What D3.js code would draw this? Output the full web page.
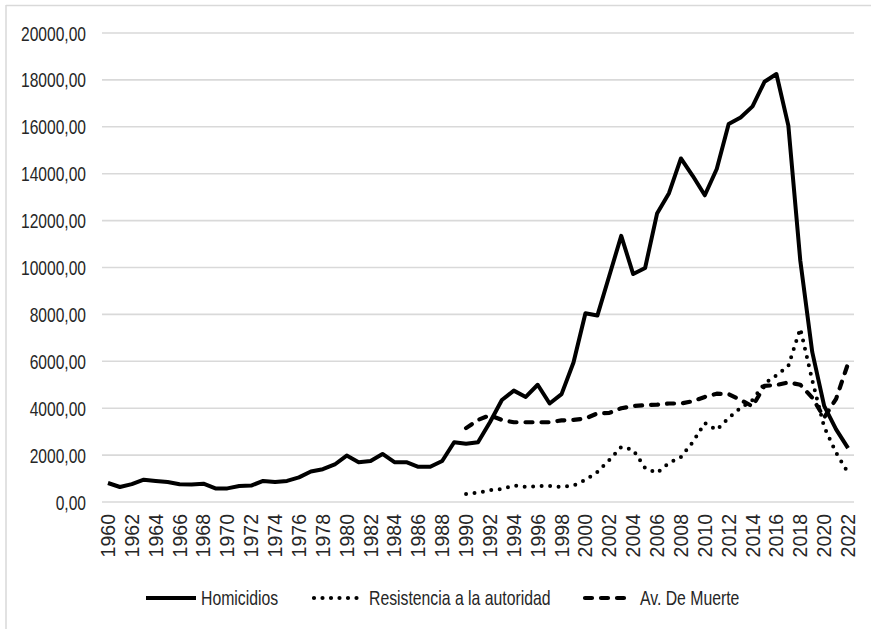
<!DOCTYPE html>
<html><head><meta charset="utf-8">
<script src="https://cdn.jsdelivr.net/npm/d3@7"></script>
<style>
body{margin:0;background:#fff;}
svg{display:block;}
</style></head>
<body>
<svg id="chart" width="871" height="629"></svg>
<script>
const years = d3.range(1960, 2023);
const homicidios = [810,640,760,950,900,850,760,750,780,580,580,680,700,900,850,900,1050,1300,1400,1600,1980,1700,1750,2050,1700,1700,1500,1500,1750,2550,2480,2550,3400,4350,4750,4480,5000,4200,4600,5950,8050,7950,9650,11350,9720,9980,12300,13170,14650,13900,13080,14200,16120,16400,16870,17920,18250,16050,10300,6400,4100,3100,2300];
const resistYears = d3.range(1990, 2023);
const resistencia = [340,400,500,560,700,640,680,680,640,700,940,1280,1790,2350,2220,1450,1240,1660,1920,2560,3370,3070,3580,4010,4350,5050,5400,5800,7400,5200,3200,2100,1250];
const muerte = [3150,3500,3700,3500,3400,3400,3400,3400,3480,3500,3560,3780,3800,4000,4090,4130,4150,4200,4200,4300,4480,4620,4600,4350,4080,4950,4990,5100,5000,4450,3600,4400,5900];
const yTicks = [0,2000,4000,6000,8000,10000,12000,14000,16000,18000,20000];
const xTickYears = years.filter(y => y % 2 === 0);
const seriesNames = ["Homicidios","Resistencia a la autoridad","Av. De Muerte"];

const FONT = "'Liberation Sans',Arial,sans-serif";
const svg = d3.select("#chart");
// outer frame (top and left edges visible)
svg.append("line").attr("x1",6).attr("x2",871).attr("y1",5.5).attr("y2",5.5).attr("stroke","#d9d9d9").attr("stroke-width",1.5);
svg.append("line").attr("x1",6).attr("x2",6).attr("y1",5).attr("y2",629).attr("stroke","#d9d9d9").attr("stroke-width",1.5);

const x = d3.scaleBand().domain(years).range([102, 854]).padding(0);
const xc = d => x(d) + x.bandwidth()/2;
const y = d3.scaleLinear().domain([0,20000]).range([502, 33]);

// gridlines
svg.append("g").selectAll("line").data(yTicks).join("line")
  .attr("x1",102).attr("x2",854)
  .attr("y1",d=>y(d)).attr("y2",d=>y(d))
  .attr("stroke","#d9d9d9").attr("stroke-width",1.6);

// y axis labels
const fmt = d => d3.format(".2f")(d).replace(".", ",");
const yAxis = d3.axisLeft(y).tickValues(yTicks).tickFormat(fmt).tickSize(0).tickPadding(0);
const gy = svg.append("g").attr("transform","translate(86,0)").call(yAxis);
gy.select(".domain").remove();
gy.selectAll("text").attr("font-family",FONT)
  .attr("font-size",19.5).attr("fill","#262626").attr("dy","0.36em").attr("transform","scale(0.8,1)");

// x axis labels
const xAxis = d3.axisBottom(x).tickValues(xTickYears).tickSize(0).tickPadding(0);
const gx = svg.append("g").attr("transform","translate(0,514)").call(xAxis);
gx.select(".domain").remove();
gx.selectAll("text")
  .attr("font-family",FONT)
  .attr("font-size",19.5).attr("fill","#262626")
  .attr("transform","rotate(-90)")
  .attr("text-anchor","end").attr("x",0).attr("y",0).attr("dy","0.36em");

// lines
const line = d3.line().x(d=>xc(d[0])).y(d=>y(d[1]));
const hom = years.map((yr,i)=>[yr,homicidios[i]]);
const res = resistYears.map((yr,i)=>[yr,resistencia[i]]);
const mue = resistYears.map((yr,i)=>[yr,muerte[i]]);

svg.append("path").datum(mue).attr("d",line).attr("fill","none").attr("stroke","#000")
  .attr("stroke-width",4.2).attr("stroke-dasharray","7 9").attr("stroke-linecap","round").attr("stroke-linejoin","round");
svg.append("path").datum(res).attr("d",line).attr("fill","none").attr("stroke","#000")
  .attr("stroke-width",4).attr("stroke-dasharray","0 8.5").attr("stroke-linecap","round").attr("stroke-linejoin","round");
svg.append("path").datum(hom).attr("d",line).attr("fill","none").attr("stroke","#000")
  .attr("stroke-width",4).attr("stroke-linejoin","round");

// legend
const lg = svg.append("g");
const items = [
  {name:seriesNames[0], x1:146, x2:196, tx:201, dash:null},
  {name:seriesNames[1], x1:314, x2:362, tx:369, dash:"0 8.5"},
  {name:seriesNames[2], x1:585, x2:632, tx:640, dash:"7 9"}
];
items.forEach(it=>{
  lg.append("line").attr("x1",it.x1).attr("x2",it.x2).attr("y1",598).attr("y2",598)
    .attr("stroke","#000").attr("stroke-width",4.2)
    .attr("stroke-linecap",it.dash? "round":"butt")
    .attr("stroke-dasharray",it.dash);
  lg.append("g").attr("transform",`translate(${it.tx},598)`)
    .append("text").attr("x",0).attr("y",0).attr("dy","0.35em")
    .attr("transform","scale(0.77,1)")
    .attr("font-family",FONT).attr("font-size",20.5).attr("fill","#262626").text(it.name);
});
</script>
</body></html>
